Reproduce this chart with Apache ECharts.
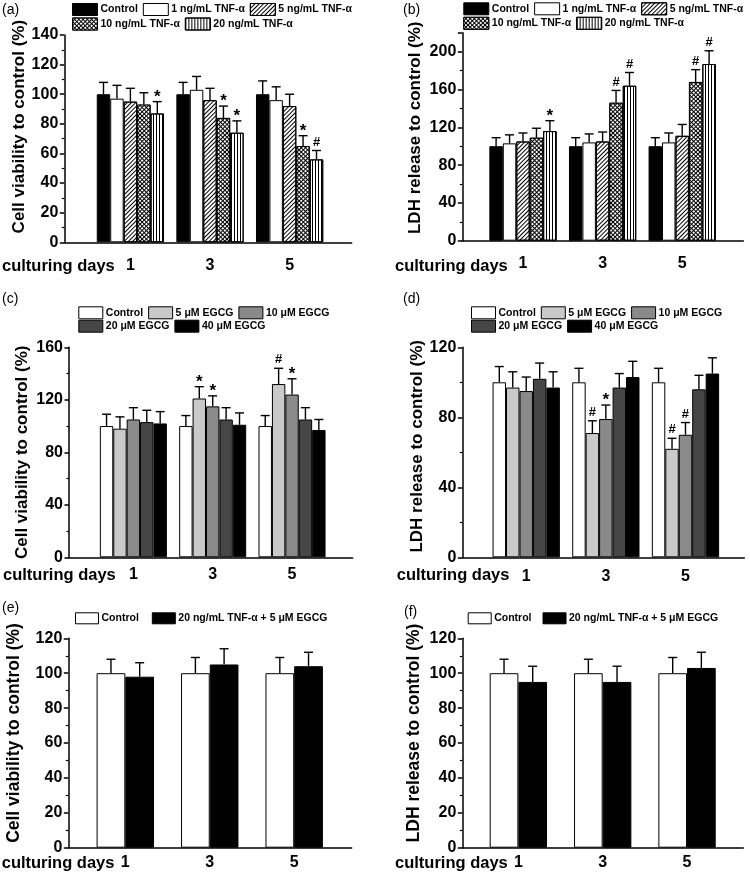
<!DOCTYPE html>
<html><head><meta charset="utf-8">
<script src="https://cdn.jsdelivr.net/npm/echarts@6/dist/echarts.min.js"></script>
<style>html,body{margin:0;padding:0;background:#fff}#c{width:750px;height:877px}</style>
</head><body><div id="c"></div>
<script>
// ---------------- DATA ----------------
const days = ['1', '3', '5'];

// (a) cell viability, TNF-α
const aNames = ['Control', '1 ng/mL TNF-α', '5 ng/mL TNF-α', '10 ng/mL TNF-α', '20 ng/mL TNF-α'];
const aValues = [[100, 100, 100], [97, 103, 96], [95, 96, 92], [93, 84, 65], [87, 74, 56]];
const aErrors = [[8, 8, 9], [9, 9, 9], [9, 8, 8], [8, 8, 7], [8, 8, 6]];
const aMarks  = [['', '', ''], ['', '', ''], ['', '', ''], ['', '*', '*'], ['*', '*', '#']];
const aYAxis  = [0, 140, 20];

// (b) LDH release, TNF-α
const bNames = aNames;
const bValues = [[100, 100, 100], [103, 104, 104], [105, 105, 111], [109, 146, 168], [116, 164, 187]];
const bErrors = [[9, 9, 9], [9, 9, 10], [9, 10, 12], [10, 13, 13], [11, 14, 14]];
const bMarks  = [['', '', ''], ['', '', ''], ['', '', ''], ['', '#', '#'], ['*', '#', '#']];
const bYAxis  = [0, 220, 40];

// (c) cell viability, EGCG
const cNames = ['Control', '5 μM EGCG', '10 μM EGCG', '20 μM EGCG', '40 μM EGCG'];
const cValues = [[100, 100, 100], [98, 121, 132], [105, 115, 124], [103, 105, 105], [102, 101, 97]];
const cErrors = [[9, 8, 8], [9, 9, 12], [9, 8, 12], [9, 9, 9], [9, 9, 8]];
const cMarks  = [['', '', ''], ['', '*', '#'], ['', '*', '*'], ['', '', ''], ['', '', '']];
const cYAxis  = [0, 160, 40];

// (d) LDH release, EGCG
const dNames = cNames;
const dValues = [[100, 100, 100], [97, 71, 62], [95, 79, 70], [102, 97, 96], [97, 103, 105]];
const dErrors = [[9, 8, 8], [9, 7, 6], [8, 8, 7], [9, 8, 8], [9, 9, 9]];
const dMarks  = [['', '', ''], ['', '#', '#'], ['', '*', '#'], ['', '', ''], ['', '', '']];
const dYAxis  = [0, 120, 40];

// (e) cell viability, combination
const eNames = ['Control', '20 ng/mL TNF-α + 5 μM EGCG'];
const eValues = [[100, 100, 100], [98, 105, 104]];
const eErrors = [[8, 9, 9], [8, 9, 8]];
const eMarks  = [['', '', ''], ['', '', '']];
const eYAxis  = [0, 120, 20];

// (f) LDH release, combination
const fNames = eNames;
const fValues = [[100, 100, 100], [95, 95, 103]];
const fErrors = [[8, 8, 9], [9, 9, 9]];
const fMarks  = [['', '', ''], ['', '', '']];
const fYAxis  = [0, 120, 20];

const xTitle = 'culturing days';
const yViability = 'Cell viability to control (%)';
const yLDH = 'LDH release to control (%)';

// ---------------- STYLES / LAYOUT ----------------
const FONT = '"Liberation Sans", Arial, Helvetica, sans-serif';
const tnfStyles = [
  { color: '#000' },
  { color: '#fff' },
  { color: '#fff', decal: { symbol: 'rect', symbolSize: 1, dashArrayX: [1, 0], dashArrayY: [1, 2], rotation: -Math.PI / 4, color: '#000' } },
  { color: '#000', decal: { symbol: 'rect', symbolSize: 1, dashArrayX: [2, 1], dashArrayY: [2, 1], rotation: Math.PI / 4, color: '#fff' } },
  { color: '#fff', decal: { symbol: 'rect', symbolSize: 1, dashArrayX: [1, 2], dashArrayY: [1, 0], rotation: 0, color: '#000' } }
];
const egcgStyles = [{ color: '#fff' }, { color: '#c9c9c9' }, { color: '#8a8a8a' }, { color: '#464646' }, { color: '#000' }];
const comboStyles = [{ color: '#fff' }, { color: '#000' }];

const panels = [
  { id: 'a', names: aNames, values: aValues, errors: aErrors, marks: aMarks, yAxis: aYAxis, yName: yViability, styles: tnfStyles,
    frame: { left: 64.3, top: 35, width: 287.4, height: 207.3 }, bars: { left: 90.6, width: 238.8 }, gap: 0.155,
    nameGap: 33, nameSize: 17, nameShift: 12, labelSize: 16, labelMargin: 15,
    legends: [{ idx: [0, 1, 2], left: 72, cy: 10 }, { idx: [3, 4], left: 72, cy: 24.5 }], legIW: 25, legIH: 12, legGap: 5,
    tag: { text: '(a)', x: 2, y: 10 }, xt: { x: 2, y: 266 } },
  { id: 'b', names: bNames, values: bValues, errors: bErrors, marks: bMarks, yAxis: bYAxis, yName: yLDH, styles: tnfStyles,
    frame: { left: 462.3, top: 32.8, width: 281, height: 207.9 }, bars: { left: 483.2, width: 238.8 }, gap: 0.155,
    nameGap: 38, nameSize: 17, nameShift: 9, labelSize: 16, labelMargin: 15,
    legends: [{ idx: [0, 1, 2], left: 463.3, cy: 9.3 }, { idx: [3, 4], left: 463.3, cy: 23.8 }], legIW: 25, legIH: 12, legGap: 5,
    tag: { text: '(b)', x: 403, y: 10 }, xt: { x: 395, y: 266 } },
  { id: 'c', names: cNames, values: cValues, errors: cErrors, marks: cMarks, yAxis: cYAxis, yName: yViability, styles: egcgStyles,
    frame: { left: 69, top: 347.3, width: 283.7, height: 210 }, bars: { left: 93.7, width: 238 }, gap: 0.155,
    nameGap: 38, nameSize: 17, nameShift: 0, labelSize: 16, labelMargin: 9,
    legends: [{ idx: [0, 1, 2], left: 78.3, cy: 313.3 }, { idx: [3, 4], left: 78.3, cy: 326.7 }], legIW: 24, legIH: 12, legGap: 5,
    tag: { text: '(c)', x: 2, y: 299 }, xt: { x: 3, y: 575.5 } },
  { id: 'd', names: dNames, values: dValues, errors: dErrors, marks: dMarks, yAxis: dYAxis, yName: yLDH, styles: egcgStyles,
    frame: { left: 462.3, top: 347.3, width: 282, height: 210 }, bars: { left: 486.4, width: 238.9 }, gap: 0.155,
    nameGap: 36, nameSize: 17, nameShift: 6, labelSize: 16, labelMargin: 11,
    legends: [{ idx: [0, 1, 2], left: 471, cy: 313.3 }, { idx: [3, 4], left: 471, cy: 326.7 }], legIW: 24, legIH: 12, legGap: 5,
    tag: { text: '(d)', x: 403, y: 299 }, xt: { x: 396.7, y: 575 } },
  { id: 'e', names: eNames, values: eValues, errors: eErrors, marks: eMarks, yAxis: eYAxis, yName: yViability, styles: comboStyles,
    frame: { left: 68.3, top: 638.3, width: 283.4, height: 209.4 }, bars: { left: 83.1, width: 253.3 }, gap: 0.32,
    nameGap: 45, nameSize: 17.5, nameShift: 10, labelSize: 16, labelMargin: 7,
    legends: [{ idx: [0, 1], left: 75, cy: 619.3 }], legIW: 23, legIH: 11, legGap: 13,
    tag: { text: '(e)', x: 2, y: 608 }, xt: { x: 1.7, y: 863.5 } },
  { id: 'f', names: fNames, values: fValues, errors: fErrors, marks: fMarks, yAxis: fYAxis, yName: yLDH, styles: comboStyles,
    frame: { left: 462.3, top: 638.3, width: 281, height: 209.4 }, bars: { left: 476.2, width: 253 }, gap: 0.32,
    nameGap: 39, nameSize: 17.5, nameShift: 10, labelSize: 16, labelMargin: 7,
    legends: [{ idx: [0, 1], left: 467.7, cy: 619.3 }], legIW: 23, legIH: 11, legGap: 11,
    tag: { text: '(f)', x: 404, y: 612 }, xt: { x: 395, y: 863.5 } }
];

// ---------------- BUILD OPTION ----------------
const grid = [], xAxis = [], yAxis = [], series = [], legend = [], graphic = [];

panels.forEach((p) => {
  const fi = grid.length;
  grid.push({ left: p.frame.left, top: p.frame.top, width: p.frame.width, height: p.frame.height, containLabel: false });
  const bi = grid.length;
  grid.push({ left: p.bars.left, top: p.frame.top, width: p.bars.width, height: p.frame.height, containLabel: false });

  const [ymin, ymax, ystep] = p.yAxis;
  const pad = p.nameShift >= 0 ? [0, 0, 0, 2 * p.nameShift] : [0, -2 * p.nameShift, 0, 0];

  // frame axes
  const fx = xAxis.length;
  xAxis.push({ type: 'value', gridIndex: fi, min: 0, max: 1, show: true,
    axisLine: { show: true, onZero: false, lineStyle: { color: '#000', width: 1.5 } },
    axisTick: { show: false }, axisLabel: { show: false }, splitLine: { show: false } });
  const fy = yAxis.length;
  yAxis.push({ type: 'value', gridIndex: fi, min: ymin, max: ymax, interval: ystep,
    axisLine: { show: true, onZero: false, lineStyle: { color: '#000', width: 1.5 } },
    axisTick: { show: true, length: 4.5, lineStyle: { color: '#000', width: 1.5 } },
    minorTick: { show: true, splitNumber: 2, length: 2.5, lineStyle: { color: '#000', width: 1.2 } },
    axisLabel: { color: '#000', fontFamily: FONT, fontWeight: 'bold', fontSize: p.labelSize, margin: 6,
      showMaxLabel: ymax % ystep === 0 },
    splitLine: { show: false },
    name: p.yName, nameLocation: 'middle', nameGap: p.nameGap,
    nameTextStyle: { color: '#000', fontFamily: FONT, fontWeight: 'bold', fontSize: p.nameSize, padding: pad } });
  series.push({ type: 'bar', xAxisIndex: fx, yAxisIndex: fy, data: [], silent: true });

  // bar axes
  const bx = xAxis.length;
  xAxis.push({ type: 'category', gridIndex: bi, data: days,
    axisLine: { show: false }, axisTick: { show: false }, splitLine: { show: false },
    axisLabel: { color: '#000', fontFamily: FONT, fontWeight: 'bold', fontSize: p.labelSize, margin: p.labelMargin } });
  const by = yAxis.length;
  yAxis.push({ type: 'value', gridIndex: bi, min: ymin, max: ymax, interval: ystep, show: false, splitLine: { show: false } });

  const n = p.names.length;
  p.names.forEach((nm, si) => {
    const st = p.styles[si];
    const itemStyle = { color: st.color, borderColor: '#000', borderWidth: 1 };
    if (st.decal) itemStyle.decal = st.decal;
    series.push({ type: 'bar', name: p.id + '|' + nm, xAxisIndex: bx, yAxisIndex: by, data: p.values[si],
      barGap: '0%', barCategoryGap: (p.gap * 100) + '%', itemStyle, silent: true, z: 2 });
  });

  // error bars + significance marks
  const errData = [], marks = [];
  p.values.forEach((row, si) => row.forEach((v, ci) => {
    errData.push([ci, v + p.errors[si][ci], v, si]);
    marks.push(p.marks[si][ci]);
  }));
  const gapRatio = p.gap;
  series.push({ type: 'custom', xAxisIndex: bx, yAxisIndex: by, data: errData, encode: { x: 0, y: 1 }, z: 5, silent: true,
    renderItem(params, api) {
      const ci = api.value(0), top = api.value(1), val = api.value(2), si = api.value(3);
      const base = api.coord([ci, val]);
      const band = api.size([1, 0])[0];
      const groupW = band * (1 - gapRatio);
      const bw = groupW / n;
      const x = base[0] - groupW / 2 + (si + 0.5) * bw;
      const yTop = api.coord([ci, top])[1];
      const lw = 1.4;
      const children = [
        { type: 'line', shape: { x1: x, y1: base[1], x2: x, y2: yTop }, style: { stroke: '#000', lineWidth: lw } },
        { type: 'line', shape: { x1: x - 4.5, y1: yTop, x2: x + 4.5, y2: yTop }, style: { stroke: '#000', lineWidth: lw } }
      ];
      const mk = marks[params.dataIndex];
      if (mk) {
        children.push({ type: 'text', style: { text: mk, x: x, y: mk === '*' ? yTop + 4 : yTop - 2, align: 'center', verticalAlign: 'bottom',
          font: 'bold ' + (mk === '*' ? 17 : 13) + 'px ' + FONT, fill: '#000' } });
      }
      return { type: 'group', children };
    } });

  // legends
  p.legends.forEach(lg => {
    legend.push({ data: lg.idx.map(k => p.id + '|' + p.names[k]), left: lg.left, top: lg.cy - 7, orient: 'horizontal',
      padding: 0, itemWidth: p.legIW, itemHeight: p.legIH, itemGap: p.legGap, selectedMode: false, icon: 'rect',
      itemStyle: { borderColor: '#000', borderWidth: 1 },
      formatter: name => name.split('|')[1],
      textStyle: { color: '#000', fontFamily: FONT, fontWeight: 'bold', fontSize: 10.5, padding: [0, 0, 0, -2] } });
  });

  graphic.push({ type: 'text', silent: true, style: { text: p.tag.text, x: p.tag.x, y: p.tag.y, verticalAlign: 'middle',
    font: '14px ' + FONT, fill: '#000' } });
  graphic.push({ type: 'text', silent: true, style: { text: xTitle, x: p.xt.x, y: p.xt.y, verticalAlign: 'middle',
    font: 'bold 16.5px ' + FONT, fill: '#000' } });
});

const chart = echarts.init(document.getElementById('c'), null, { renderer: 'canvas' });
chart.setOption({ animation: false, backgroundColor: '#fff', grid, xAxis, yAxis, series, legend, graphic });
</script></body></html>
